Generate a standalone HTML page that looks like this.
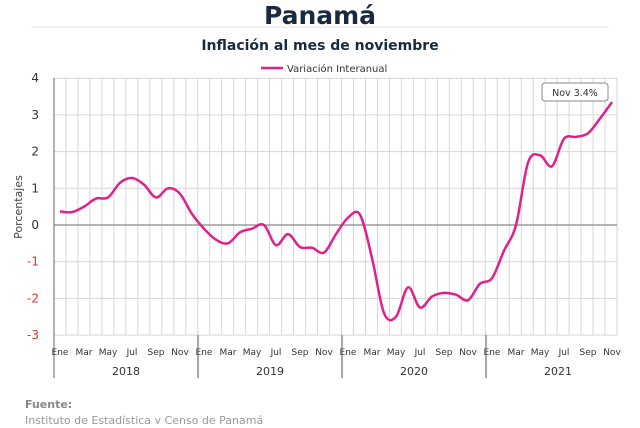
<!DOCTYPE html>
<html><head><meta charset="utf-8"><style>
body{margin:0;width:640px;height:424px;background:#fff;overflow:hidden;font-family:"DejaVu Sans","Liberation Sans",sans-serif;}
</style></head><body>
<svg width="640" height="424" xmlns="http://www.w3.org/2000/svg" font-family="DejaVu Sans, Liberation Sans, sans-serif">
<text x="320" y="24" text-anchor="middle" font-size="25" font-weight="bold" fill="#1a2a3e">Panamá</text>
<line x1="31" y1="27" x2="609" y2="27" stroke="#e6e6e6" stroke-width="1"/>
<text x="320" y="50" text-anchor="middle" font-size="14" font-weight="bold" fill="#1a2a3e">Inflación al mes de noviembre</text>
<line x1="261" y1="68" x2="283" y2="68" stroke="#e0218a" stroke-width="2.5"/>
<text x="287" y="72" font-size="10" fill="#333">Variación Interanual</text>
<g id="grid" stroke="#d6d6d6" stroke-width="1"></g>
<line x1="54" y1="225" x2="617" y2="225" stroke="#888" stroke-width="1.3"/>
<line x1="54" y1="78" x2="54" y2="378" stroke="#888" stroke-width="1.3"/>
<g id="ylab" font-size="12" text-anchor="end"></g>
<text transform="translate(22,207) rotate(-90)" text-anchor="middle" font-size="11" fill="#444">Porcentajes</text>
<g id="xlab" font-size="9" fill="#333" text-anchor="middle"></g>
<g font-size="11" fill="#333" text-anchor="middle">
<text x="126" y="375">2018</text><text x="270" y="375">2019</text><text x="414" y="375">2020</text><text x="558" y="375">2021</text></g>
<g stroke="#777" stroke-width="1.3"><line x1="198" y1="335" x2="198" y2="378"/><line x1="342" y1="335" x2="342" y2="378"/><line x1="486" y1="335" x2="486" y2="378"/></g>
<path id="ser" fill="none" stroke="#e0218a" stroke-width="2.5" stroke-linejoin="round"/>
<rect x="542" y="83" width="66" height="18" rx="3" fill="#fff" stroke="#888" stroke-width="1"/>
<text x="575" y="96" text-anchor="middle" font-size="9.5" fill="#333">Nov 3.4%</text>
<text x="25" y="408" font-size="11" font-weight="bold" fill="#888">Fuente:</text>
<text x="25" y="424" font-size="11" fill="#999">Instituto de Estadística y Censo de Panamá</text>
</svg>
<script>
var ns="http://www.w3.org/2000/svg";
function Y(v){return 225-v*36.7;}
var g=document.getElementById('grid');
for(var i=1;i<=47;i++){var l=document.createElementNS(ns,'line');var x=54+i*11.98;l.setAttribute('x1',x);l.setAttribute('x2',x);l.setAttribute('y1',78);l.setAttribute('y2',335);g.appendChild(l);}
for(var v=-3;v<=4;v++){if(v==0)continue;var l=document.createElementNS(ns,'line');l.setAttribute('x1',54);l.setAttribute('x2',617);l.setAttribute('y1',Y(v));l.setAttribute('y2',Y(v));g.appendChild(l);}
var yl=document.getElementById('ylab');
for(var v=-3;v<=4;v++){var t=document.createElementNS(ns,'text');t.setAttribute('x',39);t.setAttribute('y',Y(v)+4);t.setAttribute('fill',v<0?'#e8302a':'#333');t.textContent=v;yl.appendChild(t);}
var xl=document.getElementById('xlab');var m=['Ene','Mar','May','Jul','Sep','Nov'];
for(var yr=0;yr<4;yr++)for(var k=0;k<6;k++){var t=document.createElementNS(ns,'text');t.setAttribute('x',60+yr*144+k*24);t.setAttribute('y',355);t.textContent=m[k];xl.appendChild(t);}
var d=[0.37,0.35,0.5,0.72,0.75,1.15,1.28,1.1,0.75,1.0,0.85,0.3,
-0.1,-0.4,-0.5,-0.2,-0.1,0.0,-0.55,-0.25,-0.6,-0.62,-0.75,-0.25,
0.2,0.28,-0.9,-2.4,-2.5,-1.7,-2.25,-1.95,-1.85,-1.9,-2.05,-1.6,
-1.45,-0.7,0.0,1.7,1.9,1.6,2.35,2.4,2.5,2.9,3.35];
var p=d.map(function(v,i){return [60+i*12,Y(v)];});
var s='M'+p[0][0]+','+p[0][1];
for(var i=0;i<p.length-1;i++){var p0=p[i-1]||p[i],p1=p[i],p2=p[i+1],p3=p[i+2]||p2;
s+=' C'+(p1[0]+(p2[0]-p0[0])/6)+','+(p1[1]+(p2[1]-p0[1])/6)+' '+(p2[0]-(p3[0]-p1[0])/6)+','+(p2[1]-(p3[1]-p1[1])/6)+' '+p2[0]+','+p2[1];}
document.getElementById('ser').setAttribute('d',s);
</script>
</body></html>
